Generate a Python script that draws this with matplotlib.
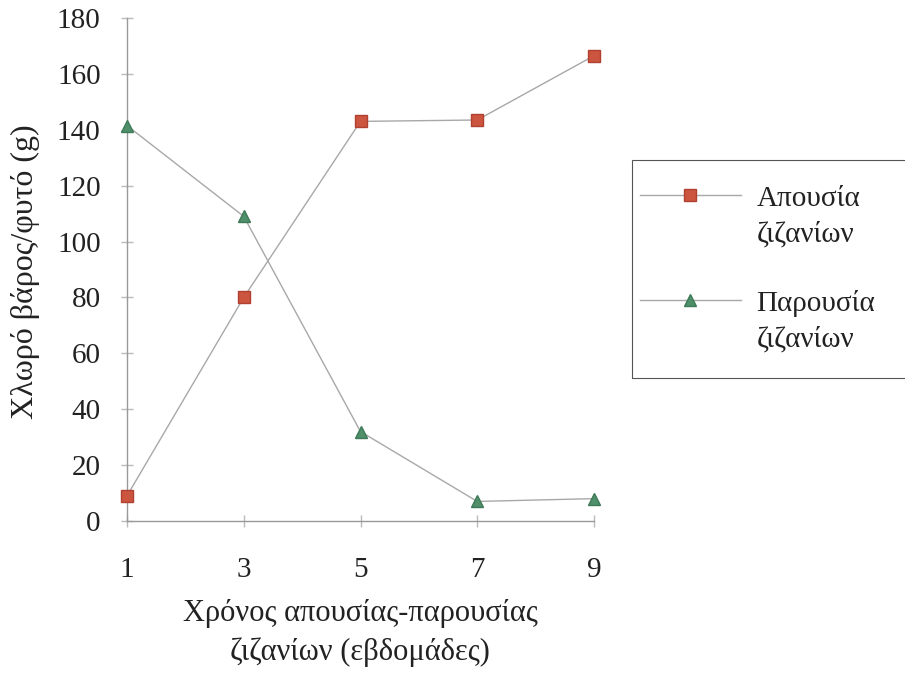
import matplotlib
matplotlib.use("Agg")
import matplotlib.pyplot as plt
from matplotlib.legend_handler import HandlerLine2D
from matplotlib.patches import Rectangle

weeks = ["1", "3", "5", "7", "9"]
absence = [9, 80, 143, 143.5, 166.5]
presence = [141.5, 109, 32, 7, 8]
yticks = [0, 20, 40, 60, 80, 100, 120, 140, 160, 180]
label_absence = "Απουσία\nζιζανίων"
label_presence = "Παρουσία\nζιζανίων"
xlabel = "Χρόνος απουσίας-παρουσίας\nζιζανίων (εβδομάδες)"
ylabel = "Χλωρό βάρος/φυτό (g)"

plt.rcParams['font.family'] = ['Liberation Serif', 'DejaVu Serif']

fig = plt.figure(figsize=(9.05, 6.74), dpi=100)
ax = fig.add_axes([127/905, 1-521/674, (594-127)/905, (521-18)/674])

x = list(range(len(weeks)))
ax.plot(x, absence, color='#a8a8a8', lw=1.0, marker='s', ms=9,
        mfc='#cc5540', mec='#b04030', label=label_absence, zorder=3)
ax.plot(x, presence, color='#a8a8a8', lw=1.0, marker='^', ms=9,
        mfc='#4f8f6a', mec='#3f7a58', label=label_presence, zorder=3)

ax.set_xlim(0, len(weeks)-1)
ax.set_ylim(0, 180)
ax.set_xticks(x)
ax.set_xticklabels(weeks)
ax.set_yticks(yticks)
ax.tick_params(axis='both', labelsize=21, colors='#bbbbbb', labelcolor='#222222',
               direction='inout', length=8, width=1)
ax.tick_params(axis='x', pad=22)
ax.tick_params(axis='y', pad=15)
for s in ['top', 'right']:
    ax.spines[s].set_visible(False)
for s in ['left', 'bottom']:
    ax.spines[s].set_color('#999999')
    ax.spines[s].set_linewidth(1.0)
for ln in ax.lines:
    ln.set_clip_on(False)

fig.text(360/905, 1-633/674, xlabel, ha='center', va='center', fontsize=22,
         color='#222222', linespacing=1.45)
fig.text(25/905, 1-272/674, ylabel, ha='center', va='center', rotation=90,
         fontsize=23, color='#222222')


class UpHandler(HandlerLine2D):
    def create_artists(self, legend, orig_handle, xdescent, ydescent, width,
                       height, fontsize, trans):
        return super().create_artists(legend, orig_handle, xdescent,
                                      ydescent - 1.45 * fontsize, width, height,
                                      fontsize, trans)


# legend frame
fig.patches.append(Rectangle((632/905, 1-378/674), 300/905, 218/674,
                             transform=fig.transFigure, fill=False,
                             edgecolor='#555555', lw=0.8))

leg = ax.legend(loc='upper left', bbox_to_anchor=(640/905, 1-186/674),
                bbox_transform=fig.transFigure, fontsize=21,
                frameon=False, handlelength=3.45, handletextpad=0.55,
                borderpad=0, labelspacing=1.45, borderaxespad=0,
                handler_map={plt.Line2D: UpHandler()})
for t in leg.get_texts():
    t.set_color('#222222')
    t.set_linespacing(1.45)

fig.savefig("out.png", dpi=100)
